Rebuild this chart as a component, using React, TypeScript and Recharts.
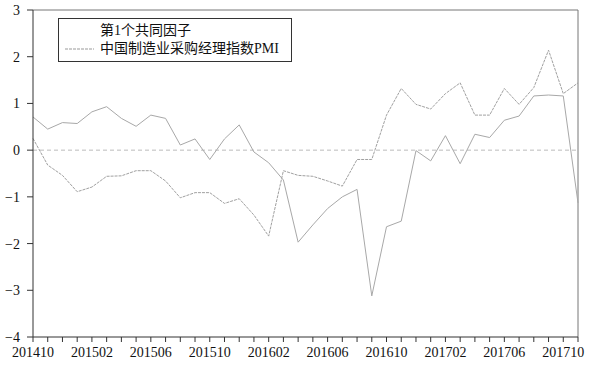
import {
  Line,
  LineChart,
  ReferenceLine,
  XAxis,
  YAxis,
} from "recharts";

const months = [
  "201410", "201411", "201412",
  "201501", "201502", "201503", "201504", "201505", "201506",
  "201507", "201508", "201509", "201510", "201511", "201512",
  "201601", "201602", "201603", "201604", "201605", "201606",
  "201607", "201608", "201609", "201610", "201611", "201612",
  "201701", "201702", "201703", "201704", "201705", "201706",
  "201707", "201708", "201709", "201710", "201711",
];

// 第1个共同因子
const factor1 = [
  0.71, 0.45, 0.59, 0.57, 0.82, 0.93, 0.68, 0.51, 0.75, 0.68,
  0.11, 0.24, -0.2, 0.24, 0.54, -0.04, -0.27, -0.64, -1.97, -1.6,
  -1.25, -1.0, -0.84, -3.12, -1.64, -1.52, -0.01, -0.23, 0.31, -0.29,
  0.34, 0.27, 0.64, 0.73, 1.16, 1.18, 1.16, -1.13,
];

// 中国制造业采购经理指数PMI (standardised)
const pmi = [
  0.25, -0.32, -0.54, -0.89, -0.79, -0.56, -0.55, -0.44, -0.44, -0.66,
  -1.02, -0.91, -0.91, -1.14, -1.04, -1.39, -1.84, -0.44, -0.54, -0.56,
  -0.66, -0.77, -0.2, -0.2, 0.75, 1.32, 0.98, 0.88, 1.21, 1.44,
  0.75, 0.75, 1.32, 0.98, 1.34, 2.14, 1.21, 1.44,
];

const seriesNames = ["第1个共同因子", "中国制造业采购经理指数PMI"];
const yTicks = [-4, -3, -2, -1, 0, 1, 2, 3];

const data = months.map((m, i) => ({ month: m, factor: factor1[i], pmi: pmi[i] }));

const font = "'Liberation Serif', 'Noto Sans CJK SC', serif";

export default function App() {
  return (
    <div style={{ position: "absolute", left: 0, top: 0, width: 596, height: 369, background: "#fff", fontFamily: font }}>
      <LineChart
        width={596}
        height={369}
        data={data}
        margin={{ top: 10, right: 18, bottom: 0, left: 0 }}
      >
        <XAxis
          dataKey="month"
          interval={0}
          tickFormatter={(v: string, i: number) => (i % 4 === 0 ? v : "")}
          tick={{ fill: "#111", fontSize: 14, fontFamily: font }}
          tickSize={5}
          tickMargin={5}
          stroke="#333"
          height={32}
        />
        <YAxis
          domain={[-4, 3]}
          ticks={yTicks}
          tickFormatter={(v: number) => (v < 0 ? "\u2212" + Math.abs(v) : String(v))}
          tick={{ fill: "#111", fontSize: 14, fontFamily: font }}
          tickSize={6}
          tickMargin={7}
          stroke="#333"
          width={33}
          interval={0}
        />
        <ReferenceLine y={3} stroke="#777" />
        <ReferenceLine x={months[months.length - 1]} stroke="#777" />
        <ReferenceLine y={0} stroke="#bbb" strokeDasharray="4 3" />
        <Line
          dataKey="factor"
          name={seriesNames[0]}
          stroke="#a8a8a8"
          strokeWidth={1}
          dot={false}
          isAnimationActive={false}
        />
        <Line
          dataKey="pmi"
          name={seriesNames[1]}
          stroke="#a0a0a0"
          strokeWidth={1}
          strokeDasharray="3 1"
          dot={false}
          isAnimationActive={false}
        />
      </LineChart>
      <div
        style={{
          position: "absolute",
          left: 58,
          top: 18,
          width: 232,
          height: 42,
          border: "1px solid #333",
          fontSize: 14,
          color: "#111",
        }}
      >
        <div style={{ position: "absolute", left: 41, top: 3, whiteSpace: "nowrap", lineHeight: "17px" }}>
          {seriesNames[0]}
        </div>
        <svg style={{ position: "absolute", left: 6, top: 29 }} width={30} height={2}>
          <line x1={0} y1={1} x2={29} y2={1} stroke="#999" strokeDasharray="3 1" />
        </svg>
        <div style={{ position: "absolute", left: 41, top: 21, whiteSpace: "nowrap", lineHeight: "17px" }}>
          {seriesNames[1]}
        </div>
      </div>
    </div>
  );
}
